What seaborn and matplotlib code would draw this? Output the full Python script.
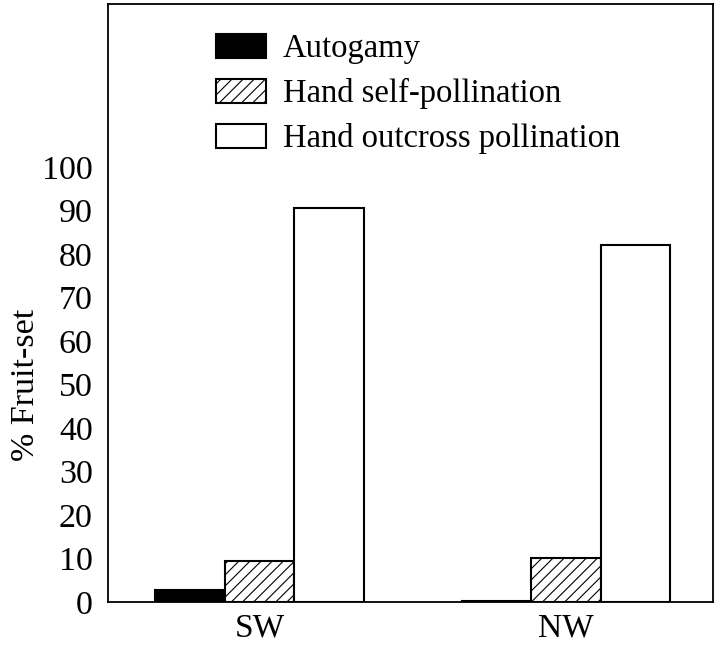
import pandas as pd
import seaborn as sns
import matplotlib.pyplot as plt
from matplotlib.patches import Patch

# Values
sites = ["SW", "NW"]
treatments = ["Autogamy", "Hand self-pollination", "Hand outcross pollination"]
autogamy = [2.8, 0.3]
hand_self = [9.4, 10.1]
hand_outcross = [90.5, 82.0]
yticks = [0, 10, 20, 30, 40, 50, 60, 70, 80, 90, 100]

df = pd.DataFrame({
    "site": sites * 3,
    "treatment": [t for t in treatments for _ in sites],
    "fruit": autogamy + hand_self + hand_outcross,
})

sns.set_style("white")
plt.rcParams["font.family"] = ["Liberation Serif", "DejaVu Serif"]
plt.rcParams["hatch.linewidth"] = 0.8
# plain black text, like the printed figure
for key in ["text.color", "axes.labelcolor", "xtick.color", "ytick.color"]:
    plt.rcParams[key] = "black"

fig = plt.figure(figsize=(7.2, 6.48), dpi=100)
ax = fig.add_axes([0.15, 0.071, 0.84, 0.923])

colors = {"Autogamy": "black", "Hand self-pollination": "white",
          "Hand outcross pollination": "white"}
sns.barplot(data=df, x="site", y="fruit", hue="treatment", hue_order=treatments,
            order=sites, palette=colors, edgecolor="black", linewidth=1.5,
            width=0.68, ax=ax, legend=False)

hatches = {"Hand self-pollination": "///"}
for cont, t in zip(ax.containers, treatments):
    for bar in cont:
        bar.set_hatch(hatches.get(t, ""))

handles = [Patch(facecolor=colors[t], edgecolor="black", linewidth=1.5,
                 hatch=hatches.get(t, ""), label=t) for t in treatments]
ax.legend(handles=handles, loc="upper left", bbox_to_anchor=(0.178, 0.950),
          frameon=False, fontsize=23.5, handlelength=1.53, handleheight=0.74,
          handletextpad=0.52, labelspacing=0.43, borderpad=0, borderaxespad=0)

ax.set_ylim(0, 137.5)
ax.set_xlim(-0.495, 1.48)
ax.set_yticks(yticks)
ax.tick_params(axis="y", direction="in", length=9, width=1.3, labelsize=24.5, pad=11)
ax.tick_params(axis="x", length=0, labelsize=24, pad=8)
ax.set_xlabel("")
ax.set_ylabel("% Fruit-set", fontsize=24.5)
ax.yaxis.set_label_coords(-0.11, 0.363)
for s in ax.spines.values():
    s.set_linewidth(1.3)
    s.set_color("black")

fig.savefig("out.png", dpi=100)
